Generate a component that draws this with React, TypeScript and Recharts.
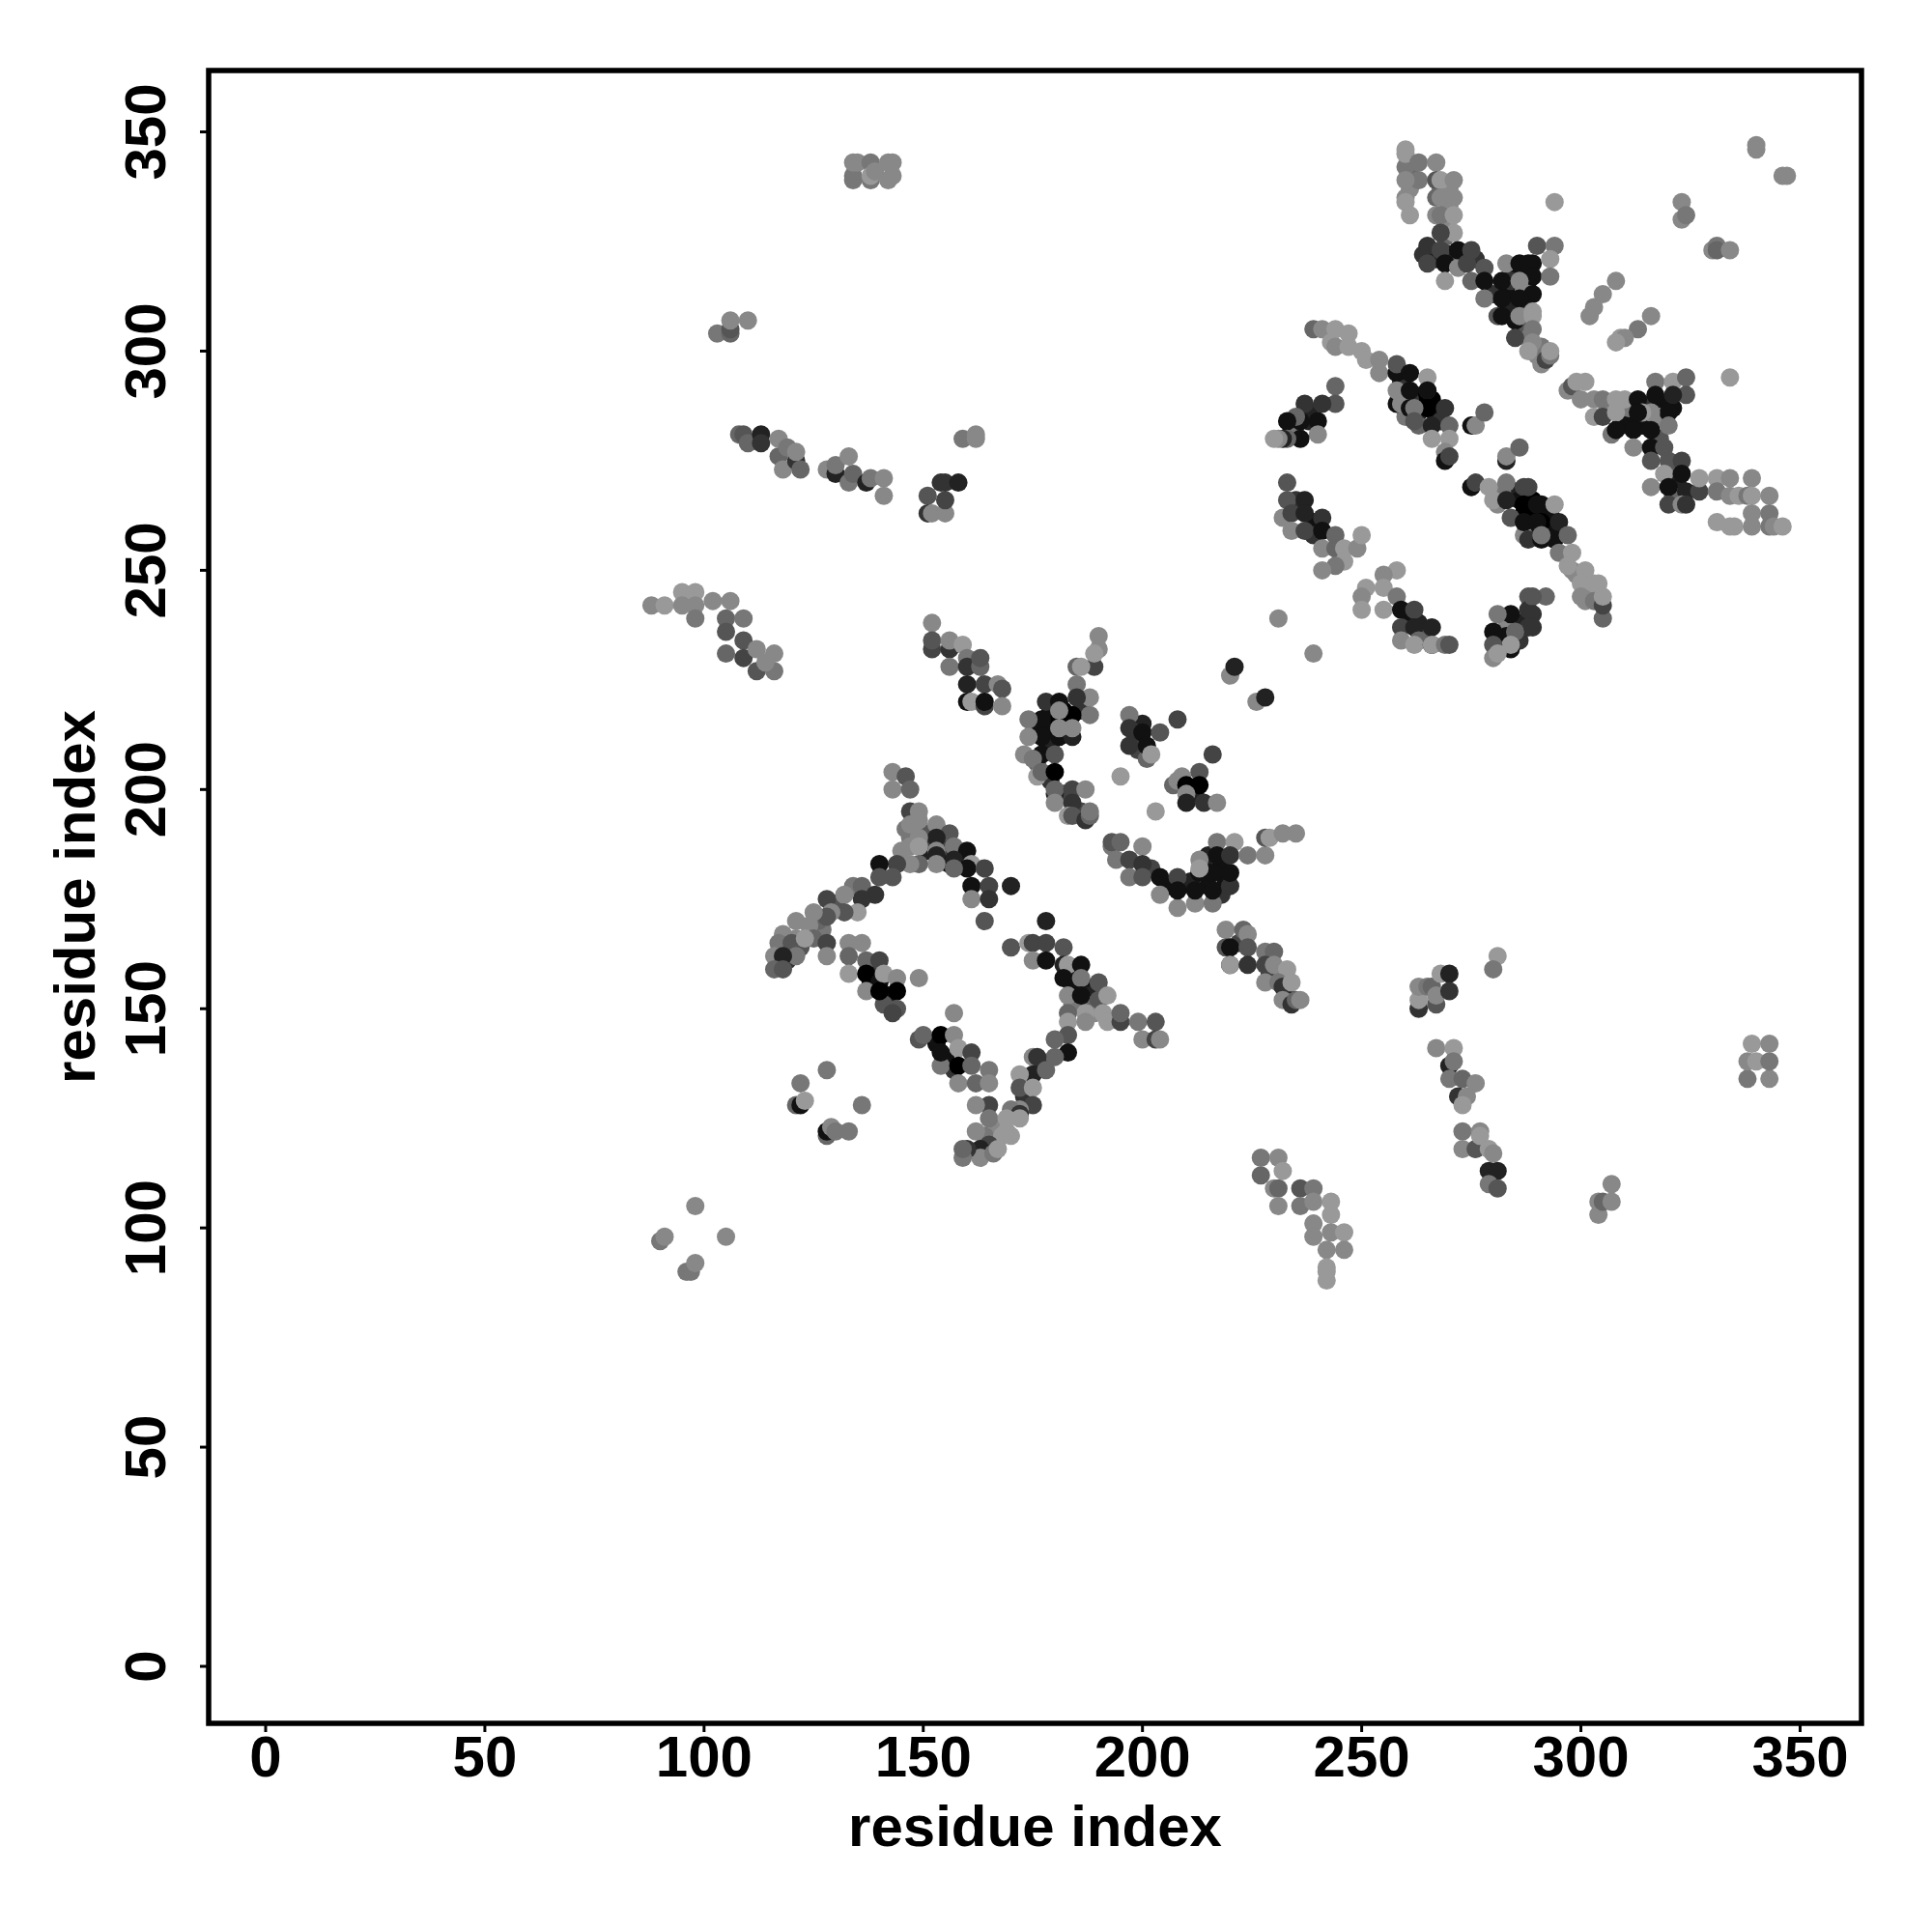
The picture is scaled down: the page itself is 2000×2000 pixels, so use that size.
import { Label, ReferenceArea, Scatter, ScatterChart, XAxis, YAxis } from "recharts"

// each contact: [residue i, residue j, level], level 0 = darkest, 9 = lightest
type Contact = [number, number, number]

const TICKS = [0, 50, 100, 150, 200, 250, 300, 350]
const AXIS_TITLE = "residue index"

// contacts hidden inside the dense clumps, drawn first so the others sit on top
const topRightCore: Contact[] = [
  [284,319,1],[286,318,1],[288,316,0],[284,313,1],[287,314,8],[284,316,3],[289,320,1],[287,310,2],[280,313,3],[283,310,2],[287,306,5],[288,303,7],
  [290,299,8],[291,301,7],[264,322,3],[267,321,2],[270,322,2],[273,321,6],[276,321,3],[269,326,6],[269,329,8],[261,337,8],[261,341,6],[268,337,7],
  [270,333,8],[270,337,8],
]
const centralCore: Contact[] = [
  [259,293,3],[262,290,1],[264,289,0],[263,286,2],[266,289,0],[267,285,1],[261,289,3],[268,284,3],[260,285,7],[263,283,6],[285,268,2],[287,263,0],
  [289,263,0],[289,266,0],[291,263,0],[289,259,1],[293,260,1],[293,263,1],[295,259,1],[286,266,1],[282,268,7],[281,265,8],[298,250,8],[302,245,8],[299,249,8],
]
const crossCore: Contact[] = [
  [310,285,2],[312,285,1],[314,283,1],[311,287,7],[314,288,3],[317,287,3],[319,288,1],[321,287,1],[318,285,8],[318,280,5],[321,272,3],[322,270,2],
  [321,267,6],[322,274,6],[306,287,8],[309,283,1],
]
const midCore: Contact[] = [
  [179,214,1],[179,218,1],[182,218,0],[183,215,0],[176,214,1],[179,210,2],[186,218,3],[176,206,6],[179,202,3],[182,199,4],[186,195,4],[200,215,2],
  [199,212,3],[199,209,4],[211,200,1],[212,199,2],[209,203,8],[214,182,1],[218,183,1],[219,179,1],[215,185,2],[215,178,1],[211,179,2],[206,178,1],[218,176,3],[202,182,4],
]
const wedgeCore: Contact[] = [
  [151,186,2],[155,187,4],[154,184,4],[158,186,3],[156,183,1],[159,184,1],[151,190,5],[152,188,4],[146,191,7],[145,186,8],[147,189,7],[184,158,1],
  [185,156,1],[187,155,1],[188,153,2],[184,155,1],[186,151,3],[189,151,6],[189,149,8],[184,151,7],
  [153,142,1],[155,139,1],[157,136,3],[167,123,8],[169,122,9],[173,130,3],[177,137,2],[164,121,7],
  [122,164,5],[125,168,8],[119,164,4],[127,168,7],[130,174,5],[134,178,7],[126,170,6],[119,161,3],[138,156,1],[142,153,1],[139,160,3],[141,151,5],
]
const arcCore: Contact[] = [
  [234,282,1],[235,281,7],[238,286,2],[238,284,2],[235,266,3],[239,261,1],[239,258,3],[261,239,1],[263,238,2],[264,235,5],[282,234,2],[286,238,2],
  [283,237,8],[286,234,3],[283,235,1],[229,158,4],[232,158,7],[233,153,1],[222,165,4],
]

const upperBlock: Contact[] = [
  [134,339,7],[134,340,7],[134,343,8],[135,343,8],[138,339,7],[138,343,7],[138,340,9],[139,341,8],[142,339,8],[142,343,8],[143,340,8],[143,343,8],
  [103,304,7],[106,304,6],[106,305,5],[106,307,8],[110,307,8],
]
const upperLeftBand: Contact[] = [
  [108,281,6],[109,281,5],[110,279,6],[113,281,2],[113,279,3],[117,276,6],[118,273,8],[117,280,8],[119,278,7],[121,275,3],[122,273,6],[121,277,8],
  [128,273,8],[130,272,2],[130,274,7],[133,276,8],[133,270,7],[134,272,6],[137,270,2],[138,271,7],[141,267,8],[141,271,8],
  [151,267,5],[151,263,3],[152,263,8],[155,263,8],[155,266,4],[154,270,3],[155,270,3],[158,270,2],[159,280,7],[162,280,8],[162,281,8],
]
const farLeftBand: Contact[] = [
  [88,242,8],[91,242,9],[95,245,9],[98,245,9],[95,242,8],[98,242,8],[98,239,7],[102,243,8],[106,243,8],[105,239,6],[109,239,7],[105,236,5],
  [109,234,5],[105,231,6],[109,230,4],[112,232,8],[112,227,5],[116,227,7],[116,231,8],[114,229,8],
]
const topRightArm: Contact[] = [
  [260,342,7],[260,345,9],[260,346,9],[263,343,7],[263,339,7],[260,339,8],[267,343,8],[267,339,5],[268,339,9],[271,339,8],[267,335,6],[268,335,8],
  [271,335,8],[260,335,8],[260,334,9],[261,331,9],[267,331,8],[268,331,7],[271,331,9],[271,327,9],[268,327,4],[265,324,3],[265,320,4],[268,323,4],
  [269,320,1],[269,316,9],[272,319,8],[272,323,1],[274,320,4],[275,323,4],[275,316,6],[278,319,5],[278,316,1],[278,312,7],[281,308,5],[282,316,1],
  [282,312,1],[282,308,1],[283,320,8],[286,320,1],[288,320,1],[290,324,5],[289,317,1],[289,313,1],[286,316,8],[286,312,1],[285,307,1],[286,308,8],
  [289,309,9],[289,308,9],[285,303,4],[289,305,7],[289,302,8],[288,300,9],
]
const farCornerPoints: Contact[] = [
  [340,347,8],[340,346,8],[346,340,8],[347,340,8],[294,334,9],[323,334,8],[323,330,8],[324,331,7],[330,323,8],[331,324,7],[331,323,6],[334,323,8],
  [294,324,7],[293,321,9],[293,317,7],[308,316,8],[305,313,8],[303,310,8],[302,308,8],[316,308,8],[313,305,7],[309,303,9],[310,303,8],[308,302,9],[334,294,9],
  [291,297,8],[292,298,4],[293,299,7],[293,300,9],
]
const rightCross: Contact[] = [
  [297,291,8],[298,292,5],[299,293,9],[301,293,9],[300,289,8],[303,289,8],[305,289,7],[303,285,9],[305,285,4],[308,289,9],[310,289,9],[313,289,1],
  [317,293,7],[321,293,9],[324,294,6],[324,290,5],[317,290,1],[321,290,2],[320,286,1],[316,286,8],[314,286,9],[313,286,1],[308,286,9],[307,281,7],
  [308,282,1],[312,282,1],[316,282,1],[320,283,7],[312,278,8],[316,278,1],[319,278,5],[316,275,5],[320,275,5],[323,275,4],[319,272,9],[323,272,1],
  [316,269,8],[320,269,1],[324,268,2],[320,265,4],[323,265,8],[324,265,3],
  [327,268,4],[327,271,9],[331,271,9],[331,268,7],[334,271,8],[334,267,8],[336,267,9],[339,271,8],[338,267,7],[339,267,9],[343,267,8],[339,263,8],
  [343,263,7],[331,261,9],[334,260,9],[335,260,9],[339,260,8],[343,260,7],[344,260,8],[346,260,9],
]
const centralBand: Contact[] = [
  [239,305,6],[241,305,8],[244,305,9],[243,302,9],[244,301,8],[247,304,9],[247,301,9],[250,300,9],[251,298,9],[254,295,8],[254,298,8],[258,295,1],
  [258,297,5],[261,295,1],[265,294,9],[258,288,1],[259,288,8],[258,291,8],[261,291,1],[265,291,1],[261,287,1],[265,287,0],[262,287,7],[269,287,3],
  [262,284,5],[266,283,2],[270,283,6],[266,280,9],[270,280,9],[269,277,8],[269,275,1],[270,276,4],[275,283,1],[276,283,8],[278,286,6],[283,275,2],[283,276,8],[286,278,6],
  [275,269,1],[276,270,4],[279,269,9],[280,266,9],[283,270,7],[283,266,2],[287,269,4],[284,262,5],[287,265,0],[291,265,1],[288,269,4],[290,265,1],[294,265,9],
  [287,258,8],[288,257,3],[287,261,1],[291,261,0],[291,257,1],[290,261,1],[295,261,2],[294,257,1],[291,258,7],[297,258,6],[295,254,7],[298,254,9],
  [297,251,9],[301,250,9],[300,247,9],[303,247,9],[304,247,9],[300,244,8],[301,243,8],[303,243,7],[305,239,6],[305,242,4],[305,244,9],
]
const arcUpper: Contact[] = [
  [244,292,6],[244,288,5],[241,288,3],[237,288,3],[240,284,1],[240,281,8],[236,284,1],[236,280,1],[235,285,6],[233,284,1],[233,280,6],[232,280,2],[231,280,8],[230,280,9],
  [233,270,5],[233,266,5],[237,266,2],[232,262,8],[234,263,4],[237,263,2],[234,259,8],[237,259,4],[241,262,3],[241,259,1],[241,255,8],[244,258,6],
  [244,255,6],[246,255,9],[249,255,8],[250,258,9],[246,252,9],[244,251,7],[241,250,8],
]
const arcLower: Contact[] = [
  [258,250,9],[255,249,8],[255,246,9],[251,246,9],[250,244,8],[250,241,9],[258,244,7],[255,241,9],[259,241,1],[262,241,4],[259,237,4],[262,237,2],
  [259,234,8],[263,234,6],[262,233,9],[266,237,2],[266,233,1],[266,233,9],[269,233,7],[270,233,5],
  [288,244,5],[292,244,6],[288,241,3],[284,240,1],[281,240,7],[288,237,3],[285,236,6],[280,236,1],[284,232,1],[284,233,9],[280,233,5],[280,230,8],[281,231,9],
  [289,244,5],[289,240,3],[289,237,3],
]
const diagonalStrays: Contact[] = [
  [231,239,8],[239,231,8],[220,226,8],[221,228,2],[226,220,8],[228,221,2],[195,203,9],[203,195,9],
]
const midLeftBand: Contact[] = [
  [152,238,8],[152,232,4],[152,234,5],[156,232,3],[156,234,8],[156,228,7],[159,233,9],[160,230,7],[160,228,3],[163,228,6],[163,230,5],
  [160,224,2],[164,224,4],[167,224,8],[168,223,5],[160,220,1],[161,220,9],[164,219,4],[164,220,1],[168,219,8],
]
const midArc: Contact[] = [
  [190,235,8],[190,232,8],[189,228,4],[189,231,9],[185,228,6],[186,228,9],[185,224,7],[188,221,8],[188,217,7],[178,220,3],[181,220,1],[185,221,3],
  [184,217,0],[181,216,0],[177,216,1],[174,216,7],[181,218,8],[177,212,1],[174,212,8],[181,212,1],[184,212,2],[184,214,8],[181,214,8],
  [173,208,8],[177,208,1],[180,208,5],[175,207,7],[176,203,9],[177,204,6],[180,204,0],[180,199,2],[180,200,6],[184,200,4],[187,200,8],[180,197,8],
  [184,197,3],[183,194,9],[184,194,5],[187,193,3],[188,194,6],[188,195,7],
]
const midRightBlocks: Contact[] = [
  [197,217,7],[197,214,3],[197,210,3],[200,213,1],[204,213,5],[201,207,6],[201,210,1],[202,208,9],[208,216,4],
  [216,208,4],[213,204,5],[207,201,6],[208,202,8],[210,201,0],[213,201,0],[210,199,8],[210,197,2],[214,197,3],[217,197,8],
]
const centreLowerArc: Contact[] = [
  [193,187,7],[193,188,5],[195,188,6],[194,184,7],[197,184,4],[200,187,8],[200,183,3],[197,180,7],[200,180,5],[204,180,1],[208,180,4],[204,176,8],
  [208,173,8],[208,177,1],[212,174,8],[212,177,1],[216,174,7],[216,177,1],[220,178,3],[220,181,1],[217,188,7],[221,188,9],[217,185,1],[220,185,3],
  [213,184,8],[213,181,1],[216,181,1],[213,182,9],[224,185,7],[228,185,8],[228,189,5],[229,189,9],[232,190,8],[235,190,8],
]
const lowerRightBand: Contact[] = [
  [219,168,8],[223,168,6],[224,167,8],[219,164,5],[220,164,1],[224,164,5],[220,160,1],[220,160,9],[224,160,3],[228,163,7],[230,163,6],[228,160,4],
  [228,156,8],[230,160,8],[233,159,9],[231,156,7],[232,155,3],[234,156,9],[232,152,8],[234,151,3],[235,152,6],[236,152,8],
]
const lowerWedgeTop: Contact[] = [
  [143,204,8],[146,203,5],[143,200,8],[147,200,6],[147,195,4],[149,195,8],[149,193,8],[147,192,8],[153,192,8],[156,190,5],[153,189,2],[149,189,8],
  [147,187,8],[149,187,9],[157,187,7],[160,186,1],[153,186,8],[153,185,2],[157,184,2],[161,183,9],[160,182,1],[164,182,4],[157,182,6],[153,183,8],
  [149,183,6],[147,183,8],[144,183,4],[143,180,5],[161,178,1],[165,178,4],[170,178,2],[161,175,8],[165,175,3],[164,170,5],
]
const lowerDiagonalArm: Contact[] = [
  [140,183,1],[140,180,5],[136,178,6],[139,176,3],[136,175,3],[132,176,8],[135,172,9],[128,175,4],[132,172,5],[129,172,8],[128,171,5],[125,172,8],
  [121,170,8],[124,169,8],[125,166,6],[128,165,4],[128,162,8],[121,166,8],[118,167,8],[117,165,7],[120,165,5],[123,166,9],[121,162,7],[116,162,8],
  [118,162,2],[116,159,6],[118,159,5],
]
const lowerInnerBand: Contact[] = [
  [133,165,8],[136,165,8],[133,162,6],[137,161,6],[140,161,4],[133,158,9],[137,158,0],[140,156,1],[141,158,9],[144,157,8],[137,154,8],[140,154,0],
  [144,154,0],[144,150,5],[143,149,4],[149,157,8],[157,149,8],
]
const lowerCentre: Contact[] = [
  [178,170,2],[170,164,5],[174,165,9],[175,165,4],[178,165,4],[175,161,8],[178,161,1],[182,164,5],[182,160,2],[183,160,9],[186,160,1],[182,157,1],
  [186,157,7],[183,153,8],[186,153,1],[190,156,5],[190,152,5],[192,153,9],[187,149,9],[183,149,6],[183,147,9],[187,147,8],[191,149,9],[192,147,9],
  [195,147,4],[195,149,6],[199,147,7],[203,147,5],[200,143,8],[203,143,4],[204,143,8],
]
const lowerVee: Contact[] = [
  [149,143,5],[150,144,6],[154,144,0],[157,144,8],[154,137,7],[154,140,1],[158,141,9],[158,137,0],[161,140,4],[161,137,6],[165,136,7],[158,133,8],
  [162,133,6],[165,133,8],
  [183,144,5],[180,143,6],[183,140,1],[180,139,6],[175,139,8],[176,139,3],[175,135,2],[178,136,6],[172,135,9],[172,132,5],[175,132,9],[175,128,4],
  [172,127,8],[170,127,7],[172,126,3],[172,125,9],[165,128,4],[162,128,8],[165,125,7],[169,125,9],[162,122,8],[170,121,9],[168,121,9],[165,119,4],
  [163,118,2],[163,116,8],[166,117,7],[167,118,9],[160,118,3],[159,116,7],[159,118,6],
]
const lowerLeftSpecks: Contact[] = [
  [128,136,7],[122,133,7],[121,128,6],[122,128,1],[123,129,9],[136,128,7],[128,121,6],[128,122,1],[129,123,8],[130,122,7],[133,122,7],
  [98,105,8],[105,98,8],[90,97,7],[91,98,8],[96,90,7],[97,90,7],[98,92,8],
]
const lowerRightSpecks: Contact[] = [
  [263,150,3],[263,152,9],[263,155,8],[265,155,7],[266,155,6],[267,151,5],[267,153,8],[268,158,9],[270,158,2],[270,154,3],[281,162,9],[280,159,7],
  [267,141,8],[271,141,9],[270,137,2],[271,138,7],[270,134,7],[273,134,6],[276,133,8],[272,130,3],[274,130,8],[273,128,9],
  [273,122,7],[273,118,8],[276,118,5],[277,122,8],[277,121,9],[279,118,9],[280,117,8],[279,113,2],[281,113,2],[279,110,7],[281,109,5],
  [227,112,6],[227,116,7],[231,116,8],[232,113,9],[230,109,8],[231,109,6],[236,109,5],[239,109,7],[231,105,8],[236,105,7],[239,106,8],[243,106,9],
  [243,103,9],[239,101,8],[239,98,8],[243,99,8],[246,99,9],[242,95,8],[246,95,8],[242,91,9],[242,90,9],[242,88,9],
  [338,134,7],[338,138,8],[340,138,9],[339,142,9],[343,134,8],[343,138,7],[343,142,8],
  [304,103,8],[304,106,8],[305,106,6],[307,106,8],[307,110,8],
]

const contacts = [
  topRightCore, centralCore, crossCore, midCore, wedgeCore, arcCore,
  upperBlock, upperLeftBand, farLeftBand, topRightArm, farCornerPoints, rightCross, centralBand, arcUpper, arcLower,
  diagonalStrays, midLeftBand, midArc, midRightBlocks, centreLowerArc, lowerRightBand, lowerWedgeTop, lowerDiagonalArm,
  lowerInnerBand, lowerCentre, lowerVee, lowerLeftSpecks, lowerRightSpecks,
]
  .flat()
  .map(([i, j, level]) => ({ i, j, level }))

const DOMAIN: [number, number] = [-13, 364]
const FONT = "'Liberation Sans', Arial, sans-serif"

function grey(level: number) {
  const v = level * 17
  return `rgb(${v},${v},${v})`
}

function ContactDot({ cx, cy, payload }: any) {
  return <circle cx={cx} cy={cy} r={9.5} fill={grey(payload.level)} />
}

function RotatedTick({ x, y, payload }: any) {
  return (
    <text
      transform={`translate(${x - 34} ${y}) rotate(-90)`}
      textAnchor="middle"
      fontFamily={FONT}
      fontWeight="bold"
      fontSize={60}
      fill="#000"
    >
      {payload.value}
    </text>
  )
}

export default function App() {
  return (
    <div style={{ position: "absolute", left: 0, top: 0, width: 2000, height: 2000, background: "#fff" }}>
      <ScatterChart width={2000} height={2000} margin={{ top: 73, right: 73, bottom: 0, left: 0 }}>
        <XAxis
          type="number"
          dataKey="i"
          domain={DOMAIN}
          ticks={TICKS}
          allowDataOverflow
          height={216}
          axisLine={false}
          tickSize={9}
          tickMargin={3}
          tickLine={{ stroke: "#000", strokeWidth: 3 }}
          tick={{ fontFamily: FONT, fontWeight: "bold", fontSize: 60, fill: "#000" }}
        >
          <Label
            content={() => (
              <text x={1071.5} y={1911} textAnchor="middle" fontFamily={FONT} fontWeight="bold" fontSize={60} fill="#000">
                {AXIS_TITLE}
              </text>
            )}
          />
        </XAxis>
        <YAxis
          type="number"
          dataKey="j"
          domain={DOMAIN}
          ticks={TICKS}
          allowDataOverflow
          width={216}
          axisLine={false}
          tickSize={9}
          tickLine={{ stroke: "#000", strokeWidth: 3 }}
          tick={<RotatedTick />}
        >
          <Label
            content={() => (
              <text
                transform="translate(98 928.5) rotate(-90)"
                textAnchor="middle"
                fontFamily={FONT}
                fontWeight="bold"
                fontSize={60}
                fill="#000"
              >
                {AXIS_TITLE}
              </text>
            )}
          />
        </YAxis>
        <Scatter data={contacts} shape={<ContactDot />} isAnimationActive={false} />
        <ReferenceArea x1={DOMAIN[0]} x2={DOMAIN[1]} y1={DOMAIN[0]} y2={DOMAIN[1]} fill="none" stroke="#000" strokeWidth={5.5} />
      </ScatterChart>
    </div>
  )
}
